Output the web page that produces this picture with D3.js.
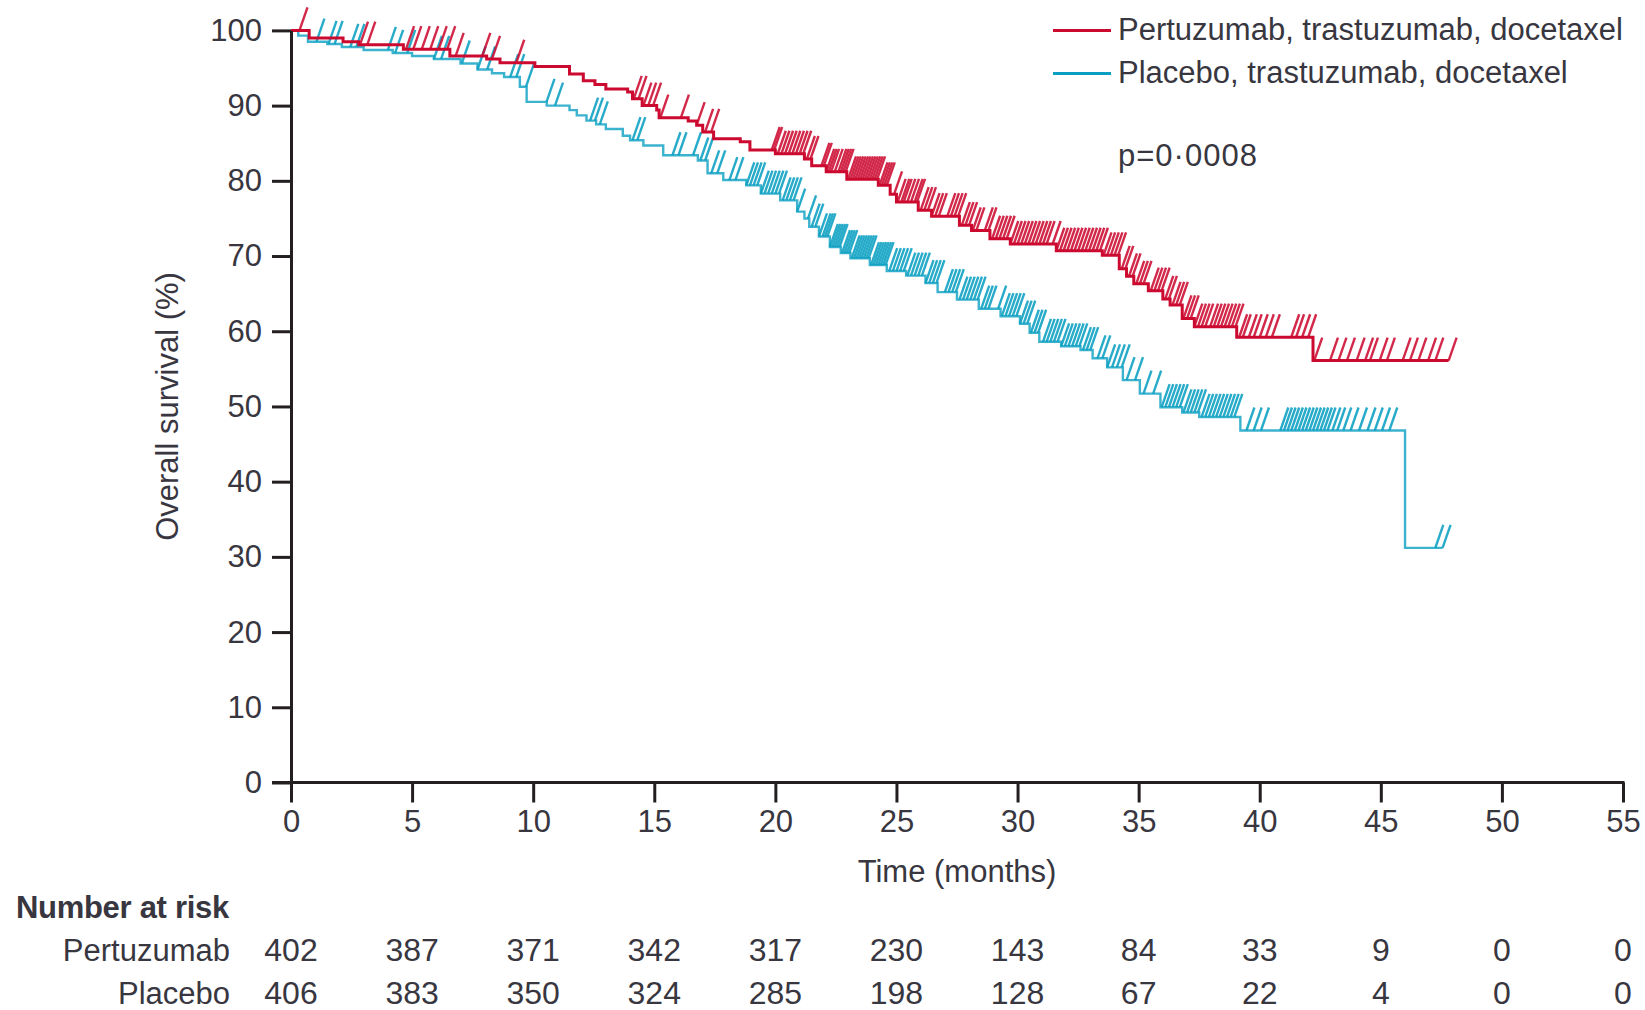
<!DOCTYPE html>
<html>
<head>
<meta charset="utf-8">
<script src="https://cdn.jsdelivr.net/npm/d3@7"></script>
<style>
  html, body { margin: 0; padding: 0; background: #fff; }
  svg { display: block; }
  text { font-family: "Liberation Sans", Arial, sans-serif; fill: #38363f; }
</style>
</head>
<body>
<svg id="chart" width="1645" height="1010"></svg>
<script>
// Kaplan-Meier overall survival, two arms
const armNames = ["Pertuzumab, trastuzumab, docetaxel", "Placebo, trastuzumab, docetaxel"];
const riskLabels = ["Pertuzumab", "Placebo"];

// step times (months) and survival (%) from that time onward
const pertTimes = [0, 0.75, 2.15, 2.8, 4.64, 6.56, 8.08, 8.63, 10.07, 11.5, 12.07, 12.55, 13.0, 13.9, 14.1, 14.5, 15.1, 15.2, 16.4, 16.75, 17.0, 17.45, 18.55, 18.95, 20.0, 21.2, 21.5, 22.1, 22.95, 24.25, 24.74, 25.0, 25.9, 26.45, 27.6, 28.1, 28.86, 29.7, 31.6, 33.5, 34.2, 34.5, 34.8, 35.4, 36.0, 36.3, 36.8, 37.3, 39.05, 42.2];
const pertSurv  = [100, 99.0, 98.5, 98.1, 97.5, 96.6, 96.2, 95.7, 95.2, 94.2, 93.3, 92.8, 92.2, 91.8, 90.9, 90.0, 89.4, 88.4, 87.95, 87.4, 86.5, 85.6, 85.2, 84.1, 83.6, 82.9, 82.0, 81.2, 80.2, 79.4, 78.2, 77.2, 76.1, 75.3, 74.1, 73.4, 72.3, 71.6, 70.7, 70.1, 68.3, 67.3, 66.3, 65.4, 64.3, 63.5, 61.7, 60.6, 59.2, 56.1];

const placTimes = [0, 0.3, 0.7, 1.5, 2.1, 3.0, 4.2, 5.0, 5.9, 7.0, 7.7, 8.3, 8.8, 9.45, 9.73, 10.56, 11.5, 11.8, 12.2, 12.6, 13.0, 13.7, 14.0, 14.55, 15.37, 16.8, 17.2, 17.85, 18.8, 19.4, 20.2, 20.9, 21.2, 21.4, 21.8, 22.25, 22.7, 23.1, 23.9, 24.6, 25.4, 26.2, 26.7, 27.5, 28.4, 29.3, 30.1, 30.5, 30.9, 31.8, 32.6, 33.1, 33.7, 34.35, 35.05, 35.9, 36.8, 37.5, 39.2, 46.0];
const placSurv  = [100, 99.3, 98.5, 98.2, 97.8, 97.4, 97.0, 96.6, 96.2, 95.6, 94.8, 94.3, 93.8, 92.5, 90.5, 90.0, 89.4, 88.7, 88.0, 87.5, 86.9, 86.0, 85.4, 84.7, 83.4, 82.7, 81.0, 80.1, 79.4, 78.3, 77.4, 75.9, 75.0, 73.9, 72.6, 71.2, 70.4, 69.7, 68.8, 68.0, 67.4, 66.4, 65.2, 64.2, 63.0, 62.0, 61.0, 59.8, 58.6, 58.0, 57.5, 56.4, 55.2, 53.5, 51.7, 49.9, 49.2, 48.6, 46.8, 31.2];

// censoring times (months)
const pertCensor = [0.35, 2.85, 3.15, 4.75, 5.05, 5.4, 5.75, 6.1, 6.45, 6.8, 7.9, 8.3, 9.3,
  14.15, 14.35, 14.55, 14.75, 14.95, 15.25, 16.1, 16.75, 17.1, 17.35,
  19.85, 19.95, 20.1, 20.25, 20.4, 20.55, 20.7, 20.85, 21.0, 21.15, 21.3, 21.45,
  21.9, 22.0, 22.1, 22.2, 22.3, 22.45, 22.6, 22.7, 22.8, 22.9, 23.0, 23.1, 23.2, 23.3, 23.4, 23.5, 23.6, 23.7,
  23.8, 23.9, 24.0, 24.1, 24.2, 24.3, 24.4, 24.5, 24.6,
  24.9, 25.05, 25.2, 25.3, 25.45, 25.6, 25.75, 25.85, 26.0, 26.15, 26.3, 26.45, 26.6, 26.75,
  27.1, 27.25, 27.4, 27.55, 27.7, 27.85, 28.0, 28.15, 28.3,
  28.65, 28.8, 28.95, 29.1, 29.25, 29.4, 29.55, 29.7, 29.85, 30.0, 30.15, 30.3, 30.45, 30.6, 30.75, 30.9, 31.05, 31.2,
  31.45, 31.6, 31.75, 31.9, 32.05, 32.2, 32.35, 32.5, 32.65, 32.8, 32.95, 33.1, 33.25, 33.4, 33.55, 33.7, 33.85, 34.0, 34.15,
  34.3, 34.45, 34.6, 34.75, 34.9, 35.05, 35.2,
  35.5, 35.65, 35.8, 35.95, 36.1, 36.25, 36.4, 36.55, 36.7, 36.85, 37.0, 37.15, 37.3, 37.45, 37.6, 37.75,
  37.95, 38.1, 38.25, 38.4, 38.55, 38.7, 38.85, 39.0, 39.15, 39.3,
  39.55, 39.75, 40.0, 40.25, 40.5,
  41.3, 41.5, 41.75, 42.0, 42.25,
  42.9, 43.25, 43.6, 44.0, 44.35, 44.55, 44.95, 45.25, 45.9, 46.2, 46.55, 46.95, 47.25, 47.8];

const placCensor = [1.05, 1.55, 1.8, 2.45, 2.7, 4.0, 4.3, 4.8, 5.9, 6.2, 7.05, 7.7, 8.1, 9.05, 9.3, 9.7, 10.55, 10.9,
  12.35, 12.55, 12.75, 14.1, 14.3, 15.75, 16.0, 16.6, 16.9, 17.1, 17.35, 17.6, 18.1, 18.35,
  18.8, 18.95, 19.1, 19.25, 19.4, 19.55, 19.7, 19.85, 20.0, 20.15, 20.3, 20.45, 20.6, 20.75, 20.9,
  21.35, 21.5, 21.65, 21.8, 21.95, 22.05, 22.15, 22.25, 22.35, 22.45, 22.55, 22.65, 22.75, 22.85, 22.95,
  23.05, 23.15, 23.25, 23.35, 23.45, 23.55, 23.65, 23.75, 23.85, 23.95, 24.05, 24.15, 24.25, 24.35, 24.45, 24.55,
  24.7, 24.85, 25.0, 25.15, 25.3, 25.45, 25.6, 25.75, 25.9, 26.05, 26.2, 26.35, 26.5, 26.65,
  27.0, 27.15, 27.3, 27.45, 27.6, 27.75, 27.9, 28.05, 28.2, 28.35, 28.5, 28.65, 28.8,
  29.2, 29.35, 29.5, 29.65, 29.8, 29.95, 30.1, 30.25, 30.4, 30.55, 30.7, 30.85,
  31.05, 31.2, 31.35, 31.5, 31.65, 31.8, 31.95, 32.1, 32.25, 32.4, 32.55, 32.7, 32.85, 33.0,
  33.3, 33.5, 33.7, 33.9, 34.1, 34.3, 34.5,
  34.85, 35.2, 35.6,
  35.95, 36.1, 36.25, 36.4, 36.55, 36.7, 36.85, 37.0, 37.15, 37.3, 37.45, 37.6, 37.75, 37.9, 38.05, 38.2,
  38.35, 38.5, 38.65, 38.8, 38.95,
  39.45, 39.75, 40.05,
  40.85, 41.0, 41.15, 41.3, 41.45, 41.6, 41.75, 41.9, 42.05, 42.2, 42.35, 42.5, 42.65, 42.8, 43.0, 43.2, 43.45, 43.75,
  44.1, 44.45, 44.75, 45.05, 45.35, 47.25, 47.55];

// axis ticks and number at risk
const xTicks = [0, 5, 10, 15, 20, 25, 30, 35, 40, 45, 50, 55];
const yTicks = [0, 10, 20, 30, 40, 50, 60, 70, 80, 90, 100];
const pertAtRisk = [402, 387, 371, 342, 317, 230, 143, 84, 33, 9, 0, 0];
const placAtRisk = [406, 383, 350, 324, 285, 198, 128, 67, 22, 4, 0, 0];

const pValue = "p=0·0008";
const xTitle = "Time (months)";
const yTitle = "Overall survival (%)";

const RED = "#cc0a30";
const BLUE = "#0a9fc2";
const INK = "#231f20";

const svg = d3.select("#chart");
const x = d3.scaleLinear().domain([0, 55]).range([291, 1623]);
const y = d3.scaleLinear().domain([0, 100]).range([782.5, 30.4]);

const arms = [
  { times: pertTimes, surv: pertSurv, censor: pertCensor, color: RED, width: 3, opacity: 1 },
  { times: placTimes, surv: placSurv, censor: placCensor, color: BLUE, width: 2.4, opacity: 0.8 }
];

function survAt(arm, t) {
  const i = d3.bisectRight(arm.times, t) - 1;
  return arm.surv[Math.max(0, i)];
}

const line = d3.line().x(d => x(d[0])).y(d => y(d[1])).curve(d3.curveStepAfter);

// draw placebo first so the pertuzumab curve sits on top
[arms[1], arms[0]].forEach(arm => {
  const end = d3.max(arm.censor);
  const pts = arm.times.map((t, i) => [t, arm.surv[i]]);
  pts.push([end, arm.surv[arm.surv.length - 1]]);
  const g = svg.append("g");
  g.append("path")
    .attr("d", line(pts))
    .attr("fill", "none")
    .attr("stroke", arm.color)
    .attr("stroke-width", arm.width)
    .attr("stroke-opacity", arm.opacity);
  // censor marks: slanted strokes rising from the curve
  g.selectAll("line.cens")
    .data(arm.censor)
    .join("line")
    .attr("class", "cens")
    .attr("x1", d => x(d))
    .attr("y1", d => y(survAt(arm, d)))
    .attr("x2", d => x(d) + 8)
    .attr("y2", d => y(survAt(arm, d)) - 23)
    .attr("stroke", arm.color)
    .attr("stroke-width", 2.4)
    .attr("stroke-opacity", 0.88);
});

// y axis
const yAxis = svg.append("g")
  .attr("transform", `translate(${x(0)},0)`)
  .call(d3.axisLeft(y).tickValues(yTicks).tickSize(19).tickSizeOuter(0).tickPadding(10));
yAxis.select(".domain").attr("stroke", INK).attr("stroke-width", 3);
yAxis.selectAll(".tick line").attr("stroke", INK).attr("stroke-width", 3);
yAxis.selectAll(".tick text")
  .attr("font-family", "Liberation Sans, Arial, sans-serif")
  .attr("font-size", 31).attr("fill", "#38363f");

// x axis
const xAxis = svg.append("g")
  .attr("transform", `translate(0,${y(0)})`)
  .call(d3.axisBottom(x).tickValues(xTicks).tickSize(20).tickSizeOuter(0).tickPadding(7));
xAxis.select(".domain").remove();
xAxis.append("line")
  .attr("x1", x(0) - 19).attr("x2", x(55) + 1.5)
  .attr("y1", 0).attr("y2", 0)
  .attr("stroke", INK).attr("stroke-width", 3);
xAxis.selectAll(".tick line").attr("stroke", INK).attr("stroke-width", 3);
xAxis.selectAll(".tick text")
  .attr("font-family", "Liberation Sans, Arial, sans-serif")
  .attr("font-size", 31).attr("fill", "#38363f");

// axis titles
svg.append("text")
  .attr("x", (x(0) + x(55)) / 2).attr("y", 882)
  .attr("text-anchor", "middle").attr("font-size", 31)
  .text(xTitle);
svg.append("text")
  .attr("transform", `translate(178,${(y(0) + y(100)) / 2}) rotate(-90)`)
  .attr("text-anchor", "middle").attr("font-size", 31)
  .text(yTitle);

// legend
const legend = svg.append("g");
[RED, BLUE].forEach((c, i) => {
  const ly = 30.5 + i * 43;
  legend.append("line")
    .attr("x1", 1053).attr("x2", 1111).attr("y1", ly).attr("y2", ly)
    .attr("stroke", c).attr("stroke-width", 3);
  legend.append("text")
    .attr("x", 1118).attr("y", ly + 9.5).attr("font-size", 31)
    .text(armNames[i]);
});
svg.append("text")
  .attr("x", 1118).attr("y", 166).attr("font-size", 31)
  .attr("letter-spacing", 1)
  .text(pValue);

// number at risk table
svg.append("text")
  .attr("x", 16).attr("y", 918).attr("font-size", 31)
  .attr("font-weight", "bold").attr("fill", "#1e1c22")
  .attr("letter-spacing", -0.3)
  .text("Number at risk");

[pertAtRisk, placAtRisk].forEach((row, r) => {
  const by = r === 0 ? 961 : 1004;
  svg.append("text")
    .attr("x", 230).attr("y", by).attr("text-anchor", "end").attr("font-size", 31)
    .text(riskLabels[r]);
  svg.append("g").selectAll("text")
    .data(row)
    .join("text")
    .attr("x", (d, i) => x(xTicks[i]))
    .attr("y", by)
    .attr("text-anchor", "middle")
    .attr("font-size", 32)
    .text(d => d);
});
</script>
</body>
</html>
